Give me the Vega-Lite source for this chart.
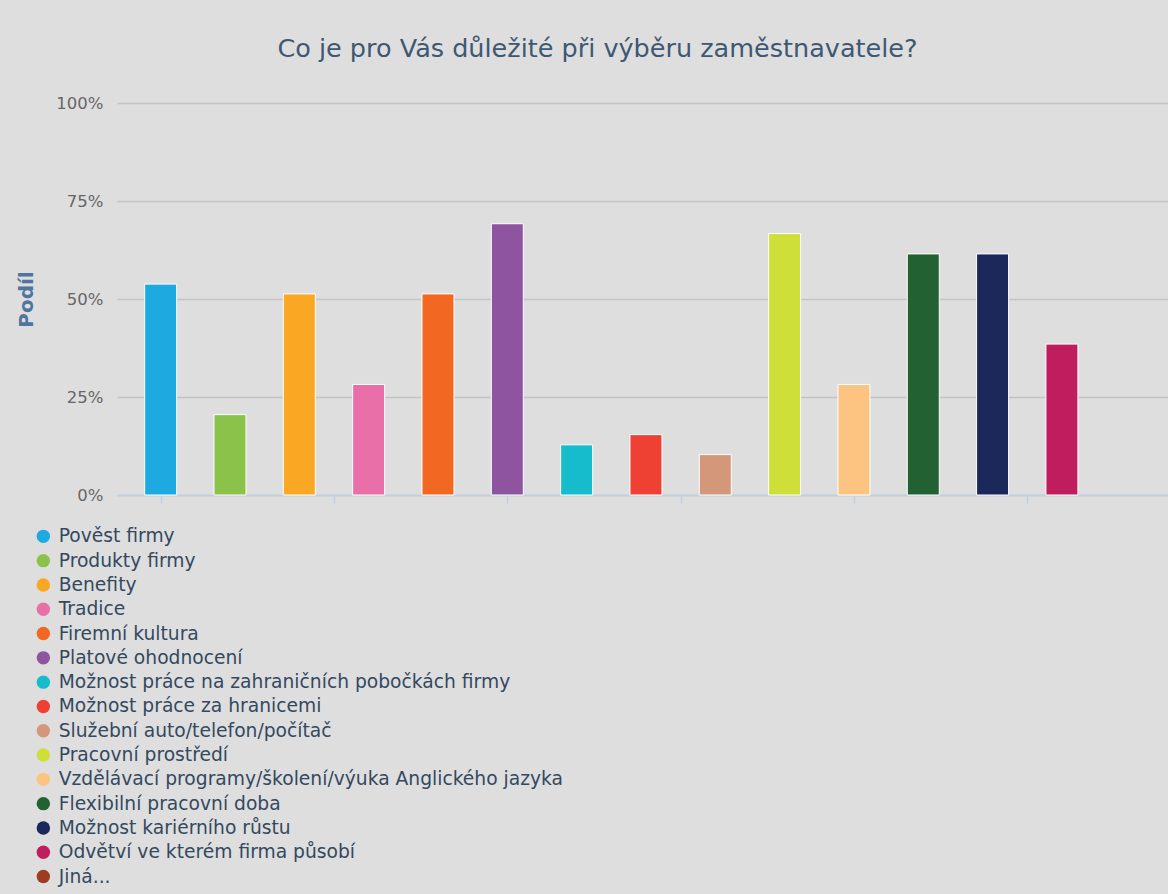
{
  "$schema": "https://vega.github.io/schema/vega-lite/v6.json",
  "width": 1051,
  "height": 392,
  "padding": {"left": 117, "top": 103, "right": 0, "bottom": 399},
  "autosize": {"type": "none"},
  "background": "#dedede",
  "title": {
    "text": "Co je pro Vás důležité při výběru zaměstnavatele?",
    "anchor": "middle",
    "frame": "group",
    "dx": -45,
    "offset": 33,
    "fontSize": 25.5,
    "font": "DejaVu Sans",
    "fontWeight": "normal",
    "color": "#3e5873"
  },
  "config": {
    "view": {"stroke": null},
    "font": "DejaVu Sans"
  },
  "data": {
    "values": [
      {"idx": 0, "name": "Pověst firmy", "value": 53.8},
      {"idx": 1, "name": "Produkty firmy", "value": 20.5},
      {"idx": 2, "name": "Benefity", "value": 51.3},
      {"idx": 3, "name": "Tradice", "value": 28.2},
      {"idx": 4, "name": "Firemní kultura", "value": 51.3},
      {"idx": 5, "name": "Platové ohodnocení", "value": 69.2},
      {"idx": 6, "name": "Možnost práce na zahraničních pobočkách firmy", "value": 12.8},
      {"idx": 7, "name": "Možnost práce za hranicemi", "value": 15.4},
      {"idx": 8, "name": "Služební auto/telefon/počítač", "value": 10.3},
      {"idx": 9, "name": "Pracovní prostředí", "value": 66.7},
      {"idx": 10, "name": "Vzdělávací programy/školení/výuka Anglického jazyka", "value": 28.2},
      {"idx": 11, "name": "Flexibilní pracovní doba", "value": 61.5},
      {"idx": 12, "name": "Možnost kariérního růstu", "value": 61.5},
      {"idx": 13, "name": "Odvětví ve kterém firma působí", "value": 38.5},
      {"idx": 14, "name": "Jiná...", "value": 0}
    ]
  },
  "transform": [{"filter": "datum.value > 0"}],
  "mark": {"type": "bar", "size": 32, "stroke": "white", "strokeWidth": 1},
  "encoding": {
    "x": {
      "field": "idx",
      "type": "quantitative",
      "scale": {"domain": [-0.63, 14.53], "nice": false, "zero": false, "padding": 0},
      "axis": {
        "title": null,
        "labels": false,
        "grid": false,
        "values": [0, 2.5, 5, 7.5, 10, 12.5],
        "domainColor": "#c0d0e0",
        "domainWidth": 1.5,
        "tickColor": "#c0d0e0",
        "tickWidth": 1.5,
        "tickSize": 8
      }
    },
    "y": {
      "field": "value",
      "type": "quantitative",
      "scale": {"domain": [0, 100], "nice": false},
      "axis": {
        "title": "Podíl",
        "titleFontSize": 20,
        "titleFontWeight": "bold",
        "titleColor": "#4d759e",
        "titlePadding": 19.5,
        "values": [0, 25, 50, 75, 100],
        "labelExpr": "datum.value + '%'",
        "labelFontSize": 16.5,
        "labelColor": "#666666",
        "labelPadding": 14,
        "domain": false,
        "ticks": false,
        "gridColor": "#c4c4c4",
        "gridWidth": 1.5
      }
    },
    "color": {
      "field": "name",
      "type": "nominal",
      "sort": null,
      "scale": {
        "domain": ["Pověst firmy", "Produkty firmy", "Benefity", "Tradice", "Firemní kultura", "Platové ohodnocení", "Možnost práce na zahraničních pobočkách firmy", "Možnost práce za hranicemi", "Služební auto/telefon/počítač", "Pracovní prostředí", "Vzdělávací programy/školení/výuka Anglického jazyka", "Flexibilní pracovní doba", "Možnost kariérního růstu", "Odvětví ve kterém firma působí", "Jiná..."],
        "range": ["#1ea9e1", "#8bc34a", "#faa723", "#e86fa8", "#f26722", "#8e54a0", "#17bccc", "#ef4034", "#d4977a", "#cfdf3a", "#fdc381", "#226131", "#1c275a", "#c01d5f", "#a03a20"]
      },
      "legend": {
        "title": null,
        "orient": "none",
        "legendX": -83,
        "legendY": 424,
        "padding": 0,
        "symbolType": "circle",
        "symbolSize": 180,
        "symbolStrokeWidth": 0,
        "labelFontSize": 18.7,
        "labelColor": "#34495e",
        "labelOffset": 6,
        "rowPadding": 4.3,
        "labelLimit": 800
      }
    }
  }
}
